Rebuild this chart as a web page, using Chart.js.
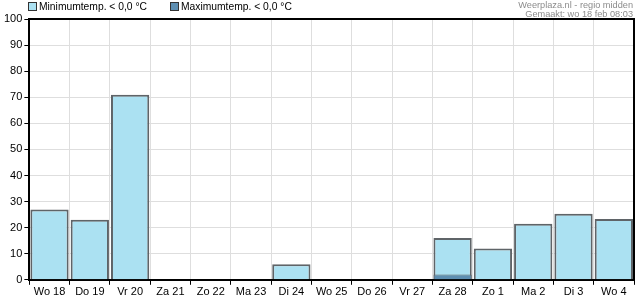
<!DOCTYPE html>
<html>
<head>
<meta charset="utf-8">
<script src="https://cdn.jsdelivr.net/npm/chart.js@4"></script>
<style>
  body { margin: 0; background: #fff; }
  canvas { display: block; }
</style>
</head>
<body>
<canvas id="chart" width="635" height="300"></canvas>
<script>
const days = ['Wo 18', 'Do 19', 'Vr 20', 'Za 21', 'Zo 22', 'Ma 23', 'Di 24', 'Wo 25', 'Do 26', 'Vr 27', 'Za 28', 'Zo 1', 'Ma 2', 'Di 3', 'Wo 4'];
const minTempChance = [27, 23, 71, 0, 0, 0, 6, 0, 0, 0, 16, 12, 21.5, 25.3, 23.3];
const maxTempChance = [0, 0, 0, 0, 0, 0, 0, 0, 0, 0, 2, 0, 0, 0, 0];
const yTicks = [0, 10, 20, 30, 40, 50, 60, 70, 80, 90, 100];

const fontFamily = '"Liberation Sans", Arial, sans-serif';
const font = { family: fontFamily, size: 11 };

// kader, legenda en bronvermelding zelf tekenen
const framePlugin = {
    id: 'framePlugin',
    afterDraw(chart) {
        const ctx = chart.ctx;
        const a = chart.chartArea;
        ctx.save();
        ctx.strokeStyle = '#000';
        ctx.lineWidth = 2;
        ctx.beginPath();
        ctx.moveTo(a.left, a.top);
        ctx.lineTo(a.right, a.top);
        ctx.lineTo(a.right, a.bottom);
        ctx.stroke();

        // legenda
        const legendX = [28, 170];
        ctx.font = '10.3px ' + fontFamily;
        ctx.textBaseline = 'alphabetic';
        ctx.textAlign = 'left';
        chart.data.datasets.forEach((ds, i) => {
            const x = legendX[i];
            ctx.fillStyle = ds.backgroundColor;
            ctx.fillRect(x + 0.5, 2.5, 8, 8);
            ctx.strokeStyle = '#333';
            ctx.lineWidth = 1;
            ctx.strokeRect(x + 0.5, 2.5, 8, 8);
            ctx.fillStyle = '#000';
            ctx.fillText(ds.label, x + 11, 10);
        });

        ctx.fillStyle = '#8c8c8c';
        ctx.font = '9.2px ' + fontFamily;
        ctx.textAlign = 'right';
        ctx.fillText('Weerplaza.nl - regio midden', 633, 8);
        ctx.fillText('Gemaakt: wo 18 feb 08:03', 633, 17);
        ctx.restore();
    },
};

new Chart(document.getElementById('chart'), {
    type: 'bar',
    data: {
        labels: days,
        datasets: [
            {
                label: 'Minimumtemp. < 0,0 °C',
                data: minTempChance,
                backgroundColor: '#abe1f2',
                borderColor: '#5f6468',
                borderWidth: 2,
                order: 2,
            },
            {
                label: 'Maximumtemp. < 0,0 °C',
                data: maxTempChance,
                backgroundColor: '#5e8fb2',
                borderColor: '#5f6468',
                borderWidth: 1,
                order: 1,
            },
        ],
    },
    options: {
        responsive: false,
        animation: false,
        layout: { padding: { left: 2, right: 1, top: 19, bottom: 0 } },
        datasets: {
            bar: {
                grouped: false,
                barPercentage: 0.95,
                categoryPercentage: 1,
            },
        },
        plugins: {
            legend: { display: false },
            tooltip: { enabled: false },
        },
        scales: {
            x: {
                grid: {
                    offset: true,
                    color: '#dedede',
                    tickColor: '#000',
                    tickLength: 5,
                },
                border: { color: '#000', width: 2 },
                ticks: { font: font, color: '#000', maxRotation: 0, padding: 1 },
            },
            y: {
                min: 0,
                max: 100,
                afterBuildTicks(axis) {
                    axis.ticks = yTicks.map(v => ({ value: v }));
                },
                grid: {
                    color: '#dedede',
                    tickColor: '#000',
                    tickLength: 5,
                },
                border: { color: '#000', width: 2 },
                ticks: { font: font, color: '#000', padding: 2 },
            },
        },
    },
    plugins: [framePlugin],
});
</script>
</body>
</html>
